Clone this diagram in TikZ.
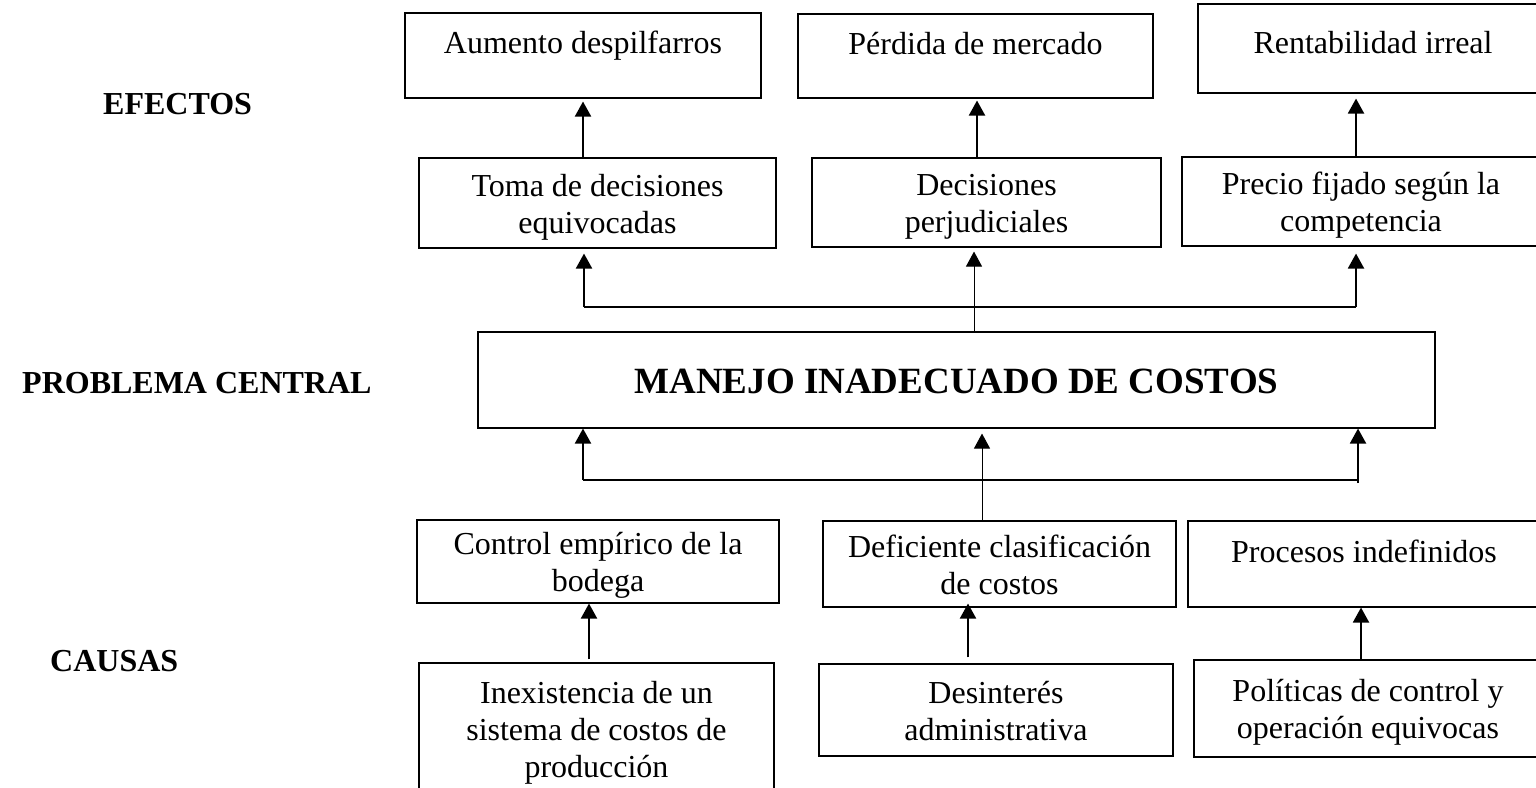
\documentclass[tikz,border=0pt]{standalone}
\usepackage{fontspec}
\setmainfont{Liberation Serif}
\usetikzlibrary{arrows.meta,calc}
\newcommand\tsr{\rule{0pt}{30pt}}
\newcommand\bsr{\rule[-7pt]{0pt}{7pt}}
\newcommand\placebox[7][]{\node[box,#1,minimum width={#4-#3},minimum height={#6-#5}] (#2) at ({(#3+#4)/2},{(#5+#6)/2}) {#7};}
\begin{document}
\begin{tikzpicture}[x=1pt,y=-1pt,
  box/.style={draw,line width=1.1pt,inner sep=0pt,align=center,font=\fontsize{32}{37}\selectfont},
  onel/.style={text height=23pt,text depth=27pt},
  arr/.style={line width=2pt,-{Triangle[width=16pt,length=15pt]}},
  tarr/.style={line width=1pt,-{Triangle[width=16pt,length=15pt]}},
  hline/.style={line width=1.4pt},
  lab/.style={font=\fontsize{32}{37}\selectfont\bfseries,anchor=base west,inner sep=0pt}]
\useasboundingbox (0,0) rectangle (1536,787);
% labels
\node[lab] (lefe) at (103,114) {EFECTOS};
\node[lab] (lpro) at (22,393) {PROBLEMA CENTRAL};
\node[lab] (lcau) at (50,671) {CAUSAS};
% effects
\placebox[onel]{aum}{405}{761}{13}{98}{Aumento despilfarros}
\placebox[onel]{per}{798}{1153}{14}{98}{Pérdida de mercado}
\placebox[text height=27pt,text depth=18pt]{ren}{1198}{1548}{4}{93}{Rentabilidad irreal}
\placebox{toma}{419}{776}{158}{248}{\tsr Toma de decisiones\\equivocadas\bsr}
\placebox{dec}{812}{1161}{158}{247}{\tsr Decisiones\\perjudiciales\bsr}
\placebox{pre}{1182}{1540}{157}{246}{\tsr Precio fijado según la\\competencia\bsr}
% central
\placebox[font=\fontsize{37}{42}\selectfont\bfseries,text height=26pt,text depth=0pt]{cen}{478}{1435}{332}{428}{MANEJO INADECUADO DE COSTOS}
% causes
\placebox{ctrl}{417}{779}{520}{603}{\tsr Control empírico de la\\bodega\bsr}
\placebox{def}{823}{1176}{521}{607}{\tsr Deficiente clasificación\\de costos\bsr}
\placebox[onel]{pro}{1188}{1540}{521}{607}{Procesos indefinidos}
\placebox{inex}{419}{774}{663}{795}{\tsr Inexistencia de un\\sistema de costos de\\producción\bsr}
\placebox{des}{819}{1173}{664}{756}{\tsr Desinterés\\administrativa\bsr}
\placebox{pol}{1194}{1542}{660}{757}{\tsr Políticas de control y\\operación equivocas\bsr}
% x positions
\coordinate (xa) at (583,0);
\coordinate (xb) at (977,0);
\coordinate (xc) at (1356,0);
\coordinate (xm) at (974,0);
\coordinate (xn) at (982,0);
\coordinate (xd) at (589,0);
\coordinate (xe) at (968,0);
\coordinate (xf) at (1361,0);
\coordinate (ul) at (584,307);
\coordinate (ur) at (1356,307);
\coordinate (ll) at (583,480);
\coordinate (lr) at (1358,480);
% effect arrows
\draw[arr,shorten >=3pt] (xa |- toma.north) -- (xa |- aum.south);
\draw[arr,shorten >=2pt] (xb |- dec.north) -- (xb |- per.south);
\draw[arr,shorten >=5pt] (xc |- pre.north) -- (xc |- ren.south);
% upper distribution
\draw[hline] (ul) -- (ur);
\draw[arr,shorten >=5pt] (ul) -- (ul |- toma.south);
\draw[arr,shorten >=7pt] (ur) -- (ur |- pre.south);
\draw[tarr,shorten >=4pt] (xm |- cen.north) -- (xm |- dec.south);
% lower distribution
\draw[hline] (ll) -- (lr);
\draw[arr] (ll) -- (ll |- cen.south);
\draw[arr,shorten <=-3pt] (lr) -- (lr |- cen.south);
\draw[tarr,shorten >=5pt] (xn |- def.north) -- (xn |- cen.south);
% cause arrows
\draw[arr,shorten <=3pt] (xd |- inex.north) -- (xd |- ctrl.south);
\draw[arr,shorten <=6pt,shorten >=-4pt] (xe |- des.north) -- (xe |- def.south);
\draw[arr] (xf |- pol.north) -- (xf |- pro.south);
\end{tikzpicture}
\end{document}
